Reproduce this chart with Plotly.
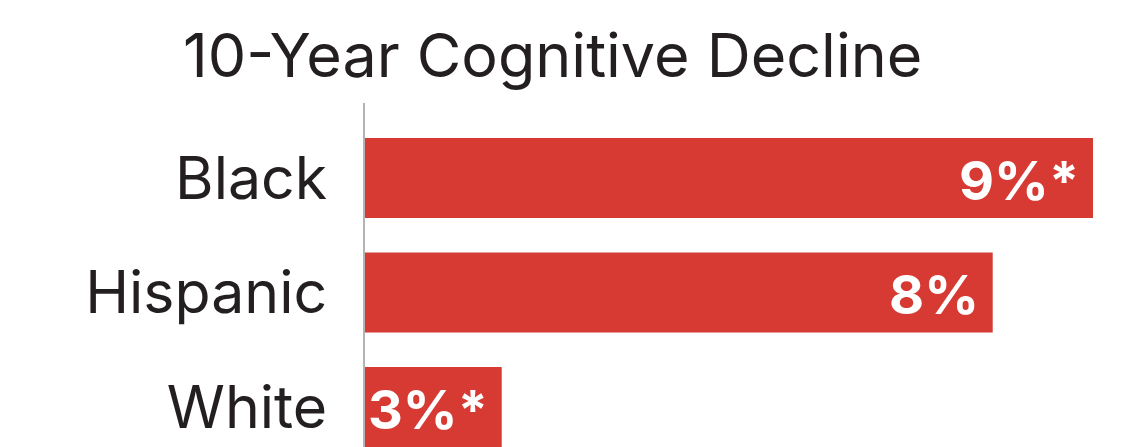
import plotly.graph_objects as go

categories = ["Black", "Hispanic", "White"]
bar_values = [9.0, 7.76, 1.69]
bar_labels = ["9%*", "8%", "3%*"]
title_text = "10-Year Cognitive Decline"

BAR_COLOR = "#d63a33"
TEXT_COLOR = "#231f20"
OFF = 8  # default browser body margin

fig = go.Figure()
fig.add_trace(go.Bar(
    x=bar_values,
    y=categories,
    orientation="h",
    marker=dict(color=BAR_COLOR, line=dict(width=0)),
    hoverinfo="skip",
))

for cat, val, lab in zip(categories, bar_values, bar_labels):
    fig.add_annotation(
        x=val, y=cat, xref="x", yref="y",
        text=lab, showarrow=False,
        xanchor="right", yanchor="middle", xshift=-12, yshift=-2,
        font=dict(family="Inter", size=54, color="white", weight=700),
    )

fig.update_layout(
    width=1132, height=447,
    margin=dict(l=365 - OFF, r=0, t=103 - OFF, b=0, autoexpand=False),
    paper_bgcolor="white", plot_bgcolor="white",
    bargap=0.3,
    showlegend=False,
    title=dict(
        text=title_text,
        x=(183 - OFF) / 1132, xanchor="left", xref="container",
        y=1 - (56 - OFF) / 447, yanchor="middle", yref="container",
        font=dict(family="Inter", size=61, color=TEXT_COLOR),
    ),
    xaxis=dict(range=[0, 9.581], visible=False, fixedrange=True),
    yaxis=dict(
        range=[2.419, -0.655],
        showline=True, linecolor="#b3b3b3", linewidth=2,
        showgrid=False, zeroline=False,
        ticks="", ticklen=0, ticklabelstandoff=24,
        tickfont=dict(family="Inter", size=59, color=TEXT_COLOR),
        fixedrange=True, automargin=False,
    ),
)

fig.write_html("out.html")
